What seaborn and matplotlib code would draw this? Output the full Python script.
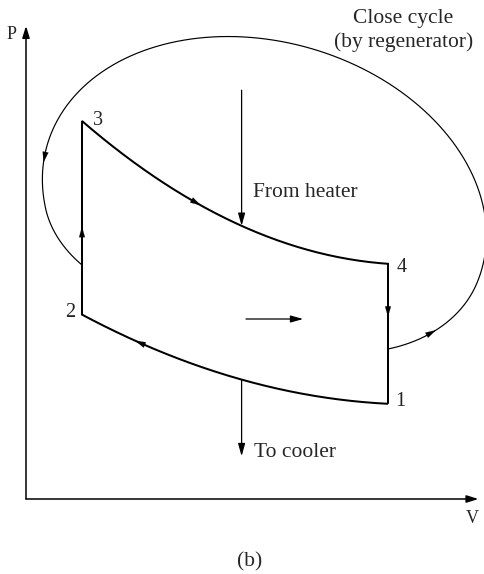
import numpy as np
import pandas as pd
import matplotlib
matplotlib.use("Agg")
import matplotlib.pyplot as plt
import seaborn as sns

# State points of the ideal Stirling cycle (arbitrary V, P units)
states = ["1", "2", "3", "4"]
volume = [9.05, 1.40, 1.40, 9.05]
pressure = [2.38, 4.61, 9.45, 5.88]

# Pressures where the regenerator loop leaves 4->1 and rejoins 2->3
regen_attach_p = [3.75, 5.85]

# Heat in / heat out arrows and the work arrow
heat_flow_v = 5.39
heater_top_p = 10.22
cooler_bottom_p = 1.07
work_arrow_v = [5.50, 6.93]
work_arrow_p = 4.50

# Text
labels = {
    "heater": "From heater",
    "cooler": "To cooler",
    "regen1": "Close cycle",
    "regen2": "(by regenerator)",
    "panel": "(b)",
}

sns.set_theme(style="white")
plt.rcParams["font.family"] = ["Liberation Serif", "DejaVu Serif"]

fig = plt.figure(figsize=(4.84, 5.74), dpi=100)
ax = fig.add_axes([0, 0, 1, 1])
ax.set_xlim(-0.65, 11.45)
ax.set_ylim(-1.875, 12.475)
ax.axis("off")

V = dict(zip(states, volume))
P = dict(zip(states, pressure))

# sag of the isothermal lines below their chords
SAG_HOT = 0.052
SAG_COLD = 0.0316


def isotherm(va, pa, vb, pb, sag, v):
    v = np.asarray(v, dtype=float)
    return pa + (pb - pa) * (v - va) / (vb - va) - sag * (v - va) * (vb - v)


def hot_p(v):
    return isotherm(V["3"], P["3"], V["4"], P["4"], SAG_HOT, v)


def cold_p(v):
    return isotherm(V["1"], P["1"], V["2"], P["2"], SAG_COLD, v)


# ---- the cycle 1 -> 2 -> 3 -> 4 -> 1
v12 = np.linspace(V["1"], V["2"], 150)
v34 = np.linspace(V["3"], V["4"], 150)
cyc_v = np.concatenate([v12, [V["3"]], v34, [V["1"]]])
cyc_p = np.concatenate([cold_p(v12), [P["3"]], hot_p(v34), [P["1"]]])
cycle = pd.DataFrame({"V": cyc_v, "P": cyc_p})
sns.lineplot(data=cycle, x="V", y="P", sort=False, estimator=None,
             color="black", lw=1.45, ax=ax, solid_joinstyle="miter",
             solid_capstyle="butt")

# ---- regenerator loop: a tilted ellipse eased in to meet the two isochores
center = np.array([5.96, 7.29])
semi_a, semi_b = 5.65, 4.14
tilt = np.deg2rad(-15.9)
ca, sa = np.cos(tilt), np.sin(tilt)


def to_param(pt):
    d = np.asarray(pt) - center
    u = d[0] * ca + d[1] * sa
    w = -d[0] * sa + d[1] * ca
    return np.arctan2(w / semi_b, u / semi_a), np.hypot(u / semi_a, w / semi_b)


def from_param(t, r):
    u = r * semi_a * np.cos(t)
    w = r * semi_b * np.sin(t)
    return center[0] + u * ca - w * sa, center[1] + u * sa + w * ca


start = (V["4"], regen_attach_p[0])
end = (V["2"], regen_attach_p[1])
t0, r0 = to_param(start)
t1, r1 = to_param(end)
if t1 < t0:
    t1 += 2 * np.pi
ease0, ease1 = np.deg2rad(36.0), np.deg2rad(20.0)


def radius(t):
    s0 = np.clip(1 - (t - t0) / ease0, 0, 1)
    s1 = np.clip(1 - (t1 - t) / ease1, 0, 1)
    return 1 - (1 - r0) * s0 ** 2 - (1 - r1) * s1 ** 2


tt = np.linspace(t0, t1, 800)
lx, ly = from_param(tt, radius(tt))
loop = pd.DataFrame({"V": lx, "P": ly})
sns.lineplot(data=loop, x="V", y="P", sort=False, estimator=None,
             color="black", lw=0.85, ax=ax)

HEAD = "-|>,head_length=0.75,head_width=0.21"


def arrow(tail, tip, lw=1.0, style=HEAD):
    ax.annotate("", xy=tip, xytext=tail,
                arrowprops=dict(arrowstyle=style, color="black", lw=lw,
                                shrinkA=0, shrinkB=0, mutation_scale=10))


# direction arrows on the cycle
for v_tip, v_tail, f in [(4.37, 4.00, hot_p), (2.725, 3.10, cold_p)]:
    arrow((v_tail, float(f(v_tail))), (v_tip, float(f(v_tip))), lw=0.1)
arrow((V["2"], 6.40), (V["2"], 6.81), lw=0.1)
arrow((V["4"], 4.95), (V["4"], 4.55), lw=0.1)

# direction arrows on the loop
for deg in (-26.0, 186.0):
    tip_t = np.deg2rad(deg)
    tail_t = tip_t - np.deg2rad(5.0)
    arrow(from_param(tail_t, radius(tail_t)), from_param(tip_t, radius(tip_t)), lw=0.1)

# heat flow arrows
arrow((heat_flow_v, heater_top_p), (heat_flow_v, float(hot_p(heat_flow_v))), lw=0.9)
arrow((heat_flow_v, float(cold_p(heat_flow_v))), (heat_flow_v, cooler_bottom_p), lw=0.9)
arrow((work_arrow_v[0], work_arrow_p), (work_arrow_v[1], work_arrow_p), lw=0.9)

# P-V axes
arrow((0, 0), (0, 11.825), lw=1.1, style="-|>,head_length=0.7,head_width=0.22")
arrow((0, 0), (11.31, 0), lw=1.1, style="-|>,head_length=0.7,head_width=0.22")
ax.text(-0.36, 11.5, "P", fontsize=13, ha="center", va="baseline")
ax.text(11.15, -0.6, "V", fontsize=13, ha="center", va="baseline")

# state labels
offsets = {"1": (7, -2, "left"), "2": (-7, -2.5, "right"),
           "3": (11, -4, "left"), "4": (9, -8.7, "left")}
for s in states:
    dx, dy, ha = offsets[s]
    ax.annotate(s, xy=(V[s], P[s]), xytext=(dx, dy), textcoords="offset pixels",
                fontsize=14.5, ha=ha, va="baseline")

fs = 15.5
ax.text(5.675, 7.54, labels["heater"], fontsize=fs, ha="left", va="baseline")
ax.text(5.70, 1.06, labels["cooler"], fontsize=fs, ha="left", va="baseline")
ax.text(9.44, 11.91, labels["regen1"], fontsize=fs, ha="center", va="baseline")
ax.text(9.445, 11.29, labels["regen2"], fontsize=fs, ha="center", va="baseline")
ax.text(5.58, -1.675, labels["panel"], fontsize=fs, ha="center", va="baseline")

fig.savefig("out.png", dpi=100, facecolor="white")
